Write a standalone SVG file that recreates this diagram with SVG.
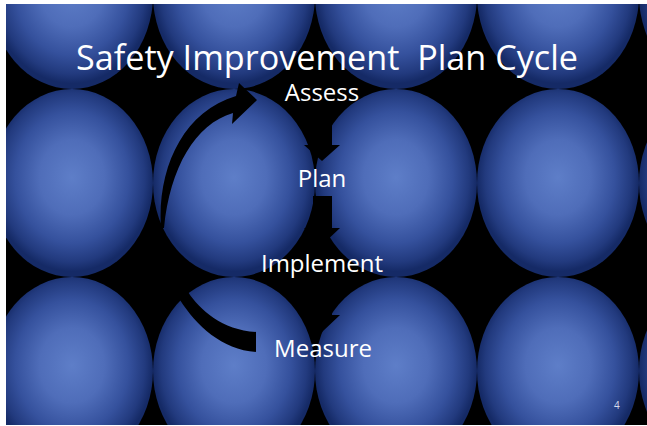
<svg xmlns="http://www.w3.org/2000/svg" width="647" height="426" viewBox="0 0 647 426">
  <defs>
    <radialGradient id="ball" cx="0.5" cy="0.47" r="0.5">
      <stop offset="0" stop-color="#5e7ec8"/>
      <stop offset="0.4" stop-color="#4f6db9"/>
      <stop offset="0.7" stop-color="#35519d"/>
      <stop offset="0.9" stop-color="#223a7e"/>
      <stop offset="1" stop-color="#152a66"/>
    </radialGradient>
    <clipPath id="slide">
      <rect x="6" y="4" width="641" height="421"/>
    </clipPath>
  </defs>
  <style>
    .ball { fill: url(#ball); }
    .arrow { fill: #000000; stroke: none; }
    .label { font-family: "Open Sans", "Liberation Sans", sans-serif; font-size: 24px; fill: #ffffff; text-anchor: middle; }
    .title { font-family: "Open Sans", "Liberation Sans", sans-serif; font-size: 34px; fill: #ffffff; }
    .page { font-family: "Open Sans", "Liberation Sans", sans-serif; font-size: 10px; fill: #d6dcec; }
  </style>
  <rect x="0" y="0" width="647" height="426" fill="#ffffff"/>
  <g id="background" clip-path="url(#slide)">
    <rect x="6" y="4" width="641" height="421" fill="#000000"/>
    <ellipse class="ball" cx="72" cy="-5" rx="81" ry="94"/>
    <ellipse class="ball" cx="234" cy="-5" rx="81" ry="94"/>
    <ellipse class="ball" cx="396" cy="-5" rx="81" ry="94"/>
    <ellipse class="ball" cx="558" cy="-5" rx="81" ry="94"/>
    <ellipse class="ball" cx="720" cy="-5" rx="81" ry="94"/>
    <ellipse class="ball" cx="72" cy="183" rx="81" ry="94"/>
    <ellipse class="ball" cx="234" cy="183" rx="81" ry="94"/>
    <ellipse class="ball" cx="396" cy="183" rx="81" ry="94"/>
    <ellipse class="ball" cx="558" cy="183" rx="81" ry="94"/>
    <ellipse class="ball" cx="720" cy="183" rx="81" ry="94"/>
    <ellipse class="ball" cx="72" cy="371" rx="81" ry="94"/>
    <ellipse class="ball" cx="234" cy="371" rx="81" ry="94"/>
    <ellipse class="ball" cx="396" cy="371" rx="81" ry="94"/>
    <ellipse class="ball" cx="558" cy="371" rx="81" ry="94"/>
    <ellipse class="ball" cx="720" cy="371" rx="81" ry="94"/>
  </g>
  <g id="connectors">
    <path class="arrow" d="M161 228 C157 170 182 112 236 96 L239 83 L257 100 L232 124 L233 113 C195 124 170 168 164 228 Z"/>
    <path class="arrow" d="M180 300 L188 292 C200 310 222 330 256 332 L256 352 C222 350 196 325 180 300 Z"/>
    <path class="arrow" d="M313 110 L332 110 L332 145 L340 145 L322 161 L304 145 L313 145 Z"/>
    <path class="arrow" d="M313 196 L332 196 L332 228 L340 228 L322 245 L304 228 L313 228 Z"/>
    <path class="arrow" d="M313 282 L332 282 L332 315 L340 315 L322 332 L304 315 L313 315 Z"/>
  </g>
  <g id="title">
    <text class="title" x="76" y="70" xml:space="preserve" textLength="502" lengthAdjust="spacingAndGlyphs">Safety Improvement  Plan Cycle</text>
  </g>
  <g id="assess"><text class="label" x="322" y="101">Assess</text></g>
  <g id="plan"><text class="label" x="322" y="187">Plan</text></g>
  <g id="implement"><text class="label" x="322" y="272">Implement</text></g>
  <g id="measure"><text class="label" x="323" y="357">Measure</text></g>
  <g id="page-number"><text class="page" x="614" y="409">4</text></g>
</svg>
